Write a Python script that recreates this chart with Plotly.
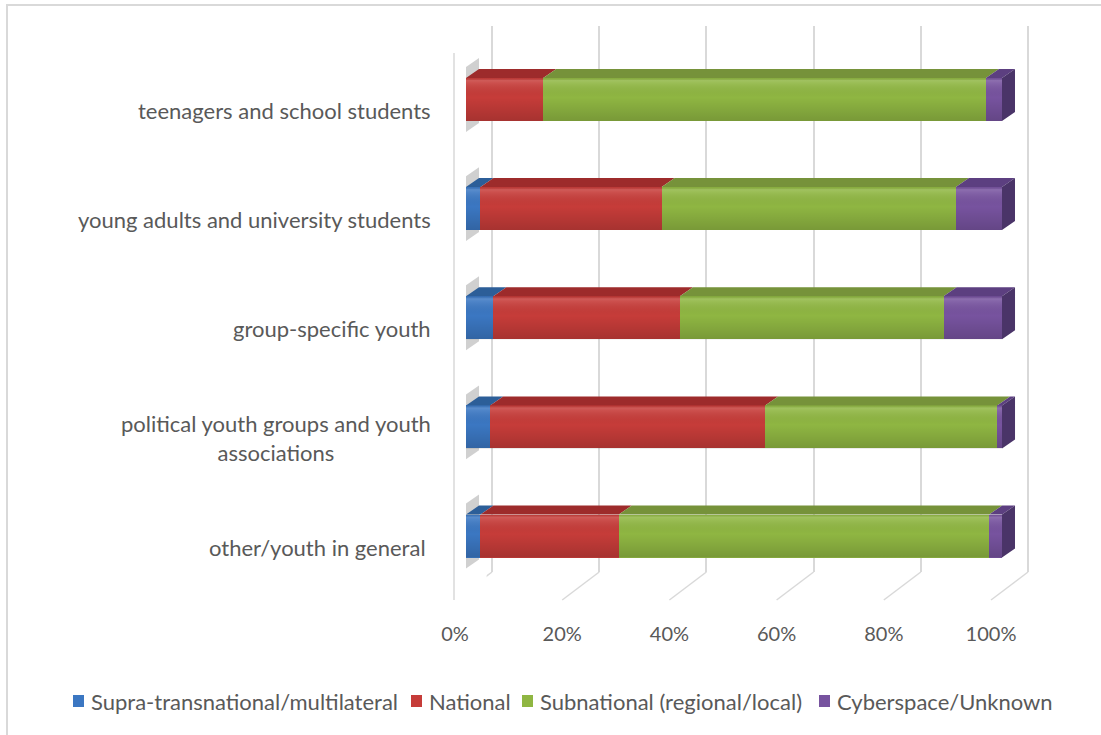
import plotly.graph_objects as go

# Categories listed bottom-to-top (plot order on the y axis)
categories = [
    "other/youth in general ",
    "political youth groups and youth<br>associations",
    "group-specific youth",
    "young adults and university students",
    "teenagers and school students",
]
series_names = [
    "Supra-transnational/multilateral",
    "National",
    "Subnational (regional/local)",
    "Cyberspace/Unknown",
]
# Shares (%) per category, same order as `categories`
supra = [2.7, 4.5, 5.1, 2.7, 0.0]
national = [25.8, 51.3, 34.8, 33.8, 14.4]
subnational = [69.1, 43.3, 49.2, 54.9, 82.6]
cyberspace = [2.4, 0.9, 10.9, 8.6, 3.0]
x_ticks = [0, 20, 40, 60, 80, 100]

series_values = [supra, national, subnational, cyberspace]
front_colors = ["#3b77c2", "#c63c39", "#8fb642", "#77539f"]
top_colors = ["#2c5e98", "#9d2b2b", "#76923a", "#5c3f80"]
side_colors = ["#24497a", "#7d2222", "#5c732c", "#4a3468"]

W, H = 1101, 735
FONT = "Lato"
TEXT_COLOR = "#595959"

def px_x(p):
    return p / W

def px_y(p):
    return (H - p) / H

# bar geometry (in axis units of the bar subplot)
bar_width = 0.394
depth_dx = 2.43      # horizontal depth offset, % units
depth_dy = 0.0825    # vertical depth offset, category units
bar_x_max = 107.09
bar_domain_x = [px_x(466), px_x(1040)]
bar_domain_y = [px_y(590.6), px_y(44.9)]

# back-wall scale: 0..100 % spans 492..1028 px; pad the range a little
grid_px0, grid_px1, grid_pad = 492, 1028, 1.0
grid_scale = (grid_px1 - grid_px0) / 100

fig = go.Figure()

# subplot 1: back wall grid
fig.add_trace(go.Scatter(x=[None], y=[None], xaxis="x", yaxis="y",
                         showlegend=False, hoverinfo="skip"))

# subplot 2: shadows cast on the left wall
sx, sy = [], []
for i in range(len(categories)):
    yb, yt = i - bar_width / 2, i + bar_width / 2
    s = 0.1
    sx += [0, depth_dx, depth_dx, 0, 0, None]
    sy += [yb - s, yb - s + depth_dy, yt + depth_dy + s, yt + s, yb - s, None]
fig.add_trace(go.Scatter(x=sx, y=sy, xaxis="x2", yaxis="y2", mode="lines",
                         line=dict(width=0), fill="toself",
                         fillcolor="rgba(150,150,150,0.45)",
                         showlegend=False, hoverinfo="skip"))

# subplot 3: front faces as stacked horizontal bars
ypos = list(range(len(categories)))
for name, vals, col in zip(series_names, series_values, front_colors):
    fig.add_trace(go.Bar(
        name=name, x=vals, y=ypos, orientation="h", width=bar_width,
        marker=dict(color=col, line=dict(width=0)),
        xaxis="x3", yaxis="y3", showlegend=False,
    ))

# soft vertical shading over each bar's front face
for i in range(len(categories)):
    total = sum(series_values[j][i] for j in range(len(series_values)))
    yb, yt = i - bar_width / 2, i + bar_width / 2
    fig.add_trace(go.Scatter(
        x=[0, total, total, 0, 0], y=[yb, yb, yt, yt, yb],
        xaxis="x3", yaxis="y3", mode="lines", line=dict(width=0),
        fill="toself",
        fillgradient=dict(type="vertical", colorscale=[
            [0.0, "rgba(0,0,0,0.16)"],
            [0.55, "rgba(0,0,0,0.0)"],
            [0.88, "rgba(255,255,255,0.10)"],
            [0.94, "rgba(255,255,255,0.16)"],
            [1.0, "rgba(0,0,0,0.05)"],
        ]),
        showlegend=False, hoverinfo="skip",
    ))

# top faces of every segment
for k, (vals, col) in enumerate(zip(series_values, top_colors)):
    tx, ty = [], []
    for i in range(len(categories)):
        start = sum(series_values[j][i] for j in range(k))
        end = start + vals[i]
        if vals[i] <= 0:
            continue
        yt = i + bar_width / 2
        tx += [start, end, end + depth_dx, start + depth_dx, start, None]
        ty += [yt, yt, yt + depth_dy, yt + depth_dy, yt, None]
    fig.add_trace(go.Scatter(x=tx, y=ty, xaxis="x3", yaxis="y3", mode="lines",
                             line=dict(width=0), fill="toself", fillcolor=col,
                             showlegend=False, hoverinfo="skip"))

# right end faces, coloured by the last non-empty segment
for k, col in enumerate(side_colors):
    rx, ry = [], []
    for i in range(len(categories)):
        last = max(j for j in range(len(series_values)) if series_values[j][i] > 0)
        if last != k:
            continue
        end = sum(series_values[j][i] for j in range(len(series_values)))
        yb, yt = i - bar_width / 2, i + bar_width / 2
        rx += [end, end + depth_dx, end + depth_dx, end, end, None]
        ry += [yb, yb + depth_dy, yt + depth_dy, yt, yb, None]
    if rx:
        fig.add_trace(go.Scatter(x=rx, y=ry, xaxis="x3", yaxis="y3", mode="lines",
                                 line=dict(width=0), fill="toself", fillcolor=col,
                                 showlegend=False, hoverinfo="skip"))

# subplot 4: percentage tick labels along the front floor edge
fig.add_trace(go.Scatter(x=[None], y=[None], xaxis="x4", yaxis="y4",
                         showlegend=False, hoverinfo="skip"))

shapes = [
    # chart frame
    dict(type="rect", xref="paper", yref="paper", x0=px_x(7), x1=1.05,
         y0=px_y(5), y1=-0.05, line=dict(color="#d9d9d9", width=2),
         layer="below"),
    # left wall front edge
    dict(type="line", xref="paper", yref="paper", x0=px_x(454), x1=px_x(454),
         y0=px_y(53), y1=px_y(600), line=dict(color="#d9d9d9", width=1.5),
         layer="below"),
]
# floor lines running from the back wall to the front edge
for v in x_ticks:
    shapes.append(dict(type="line", xref="x", xsizemode="pixel", xanchor=v,
                       x0=0, x1=-37, yref="paper", y0=px_y(572), y1=px_y(600),
                       line=dict(color="#d9d9d9", width=1.5), layer="below"))

annotations = []
for i, cat in enumerate(categories):
    annotations.append(dict(
        text=cat, xref="paper", x=px_x(433), xanchor="right",
        yref="y3", y=i, yanchor="middle", yshift=-11, align="center",
        showarrow=False, font=dict(family=FONT, size=22, color=TEXT_COLOR),
    ))

# legend: swatch + label per series
legend_swatch_px = [73, 411, 522, 819]
legend_y = 701
for name, col, x0 in zip(series_names, front_colors, legend_swatch_px):
    shapes.append(dict(type="rect", xref="paper", yref="paper",
                       x0=px_x(x0), x1=px_x(x0 + 11),
                       y0=px_y(legend_y + 6), y1=px_y(legend_y - 6),
                       fillcolor=col, line=dict(width=0)))
    annotations.append(dict(
        text=name, xref="paper", yref="paper", x=px_x(x0 + 16), y=px_y(legend_y),
        xanchor="left", yanchor="middle", showarrow=False,
        font=dict(family=FONT, size=22, color=TEXT_COLOR),
    ))

fig.update_layout(
    width=W, height=H,
    margin=dict(l=0, r=0, t=0, b=0, autoexpand=False),
    paper_bgcolor="white", plot_bgcolor="rgba(0,0,0,0)",
    barmode="stack", showlegend=False,
    shapes=shapes, annotations=annotations,
    xaxis=dict(domain=[px_x(grid_px0 - grid_pad * grid_scale),
                       px_x(grid_px1 + grid_pad * grid_scale)],
               range=[-grid_pad, 100 + grid_pad], anchor="y",
               tickvals=x_ticks, showgrid=True, gridcolor="#d9d9d9", gridwidth=1.5,
               showticklabels=False, zeroline=False, showline=False, ticks="",
               automargin=False),
    yaxis=dict(domain=[px_y(572), px_y(26)], range=[0, 1], anchor="x",
               visible=False),
    xaxis2=dict(domain=bar_domain_x, range=[0, bar_x_max], anchor="y2",
                visible=False),
    yaxis2=dict(domain=bar_domain_y, range=[-0.5, 4.5], anchor="x2",
                visible=False),
    xaxis3=dict(domain=bar_domain_x, range=[0, bar_x_max], anchor="y3",
                visible=False),
    yaxis3=dict(domain=bar_domain_y, range=[-0.5, 4.5], anchor="x3",
                visible=False),
    xaxis4=dict(domain=[px_x(455), px_x(991)], range=[0, 100], anchor="y4",
                tickvals=x_ticks, ticktext=[f"{v}%" for v in x_ticks],
                showgrid=False, zeroline=False, showline=False, ticks="",
                automargin=False,
                tickfont=dict(family=FONT, size=20, color=TEXT_COLOR)),
    yaxis4=dict(domain=[px_y(620), px_y(616)], anchor="x4", visible=False),
)

fig.write_html("out.html")
